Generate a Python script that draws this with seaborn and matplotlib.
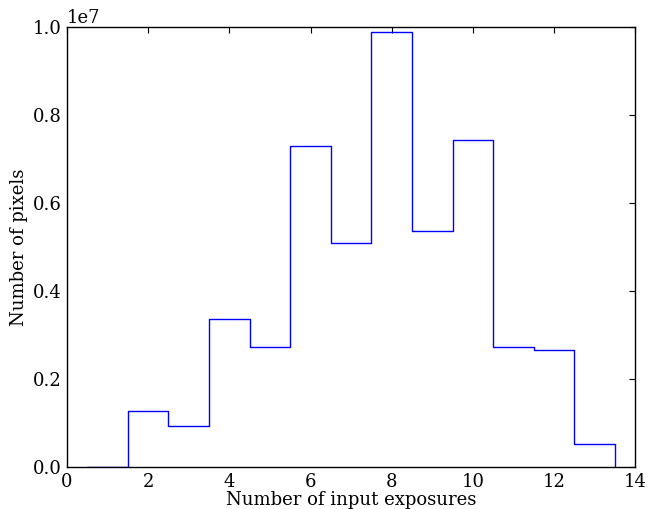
import matplotlib
matplotlib.use("Agg")
import matplotlib.pyplot as plt
import seaborn as sns
import pandas as pd

# Pixel counts per number of input exposures
exposures = [1, 2, 3, 4, 5, 6, 7, 8, 9, 10, 11, 12, 13]
pixels = [5.0e3, 1.27e6, 0.93e6, 3.36e6, 2.73e6, 7.31e6, 5.11e6,
          9.89e6, 5.37e6, 7.45e6, 2.74e6, 2.66e6, 0.54e6]

x_ticks = [0, 2, 4, 6, 8, 10, 12, 14]
y_ticks = [0.0, 0.2e7, 0.4e7, 0.6e7, 0.8e7, 1.0e7]

sns.set_style("white")
plt.rcParams["font.family"] = ["DejaVu Serif"]
plt.rcParams["mathtext.fontset"] = "dejavuserif"
plt.rcParams["text.color"] = "black"
plt.rcParams["axes.labelcolor"] = "black"
plt.rcParams["xtick.color"] = "black"
plt.rcParams["ytick.color"] = "black"

df = pd.DataFrame({"exposures": exposures, "pixels": pixels})

fig = plt.figure(figsize=(6.49, 5.09), dpi=100)
ax = fig.add_axes([0.103, 0.082, 0.876, 0.864])

line_color = "#0000ff"
sns.histplot(data=df, x="exposures", weights="pixels", discrete=True,
             element="step", fill=False, color=line_color, linewidth=1.0,
             ax=ax)
# close the outline on the right edge of the last bin
ax.vlines(exposures[-1] + 0.5, 0, pixels[-1], color=line_color, linewidth=1.0)

ax.set_xlim(0, 14)
ax.set_ylim(0, 1.0e7)
ax.set_xticks(x_ticks)
ax.set_yticks(y_ticks)
ax.ticklabel_format(axis="y", style="sci", scilimits=(0, 0), useMathText=False)
ax.yaxis.get_offset_text().set_fontsize(13)

ax.tick_params(direction="in", length=4, width=0.8, top=True, right=True,
               labelsize=13, pad=4, colors="black")
for side in ax.spines.values():
    side.set_color("black")
    side.set_linewidth(1.0)

ax.set_xlabel("Number of input exposures", fontsize=13, labelpad=0)
ax.set_ylabel("Number of pixels", fontsize=13, labelpad=3)

fig.savefig("out.png", dpi=100)
